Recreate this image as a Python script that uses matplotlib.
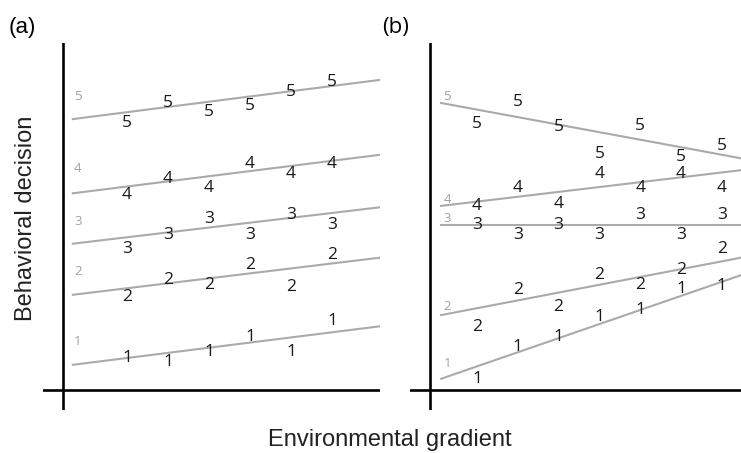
import matplotlib
matplotlib.use("Agg")
import matplotlib.pyplot as plt

# ---------------- data ----------------
# Panel (a): six individuals along gradient, five decision levels
a_cols = [1, 2, 3, 4, 5, 6]
a_level5 = [3.84, 4.13, 4.00, 4.09, 4.29, 4.43]
a_level4 = [2.81, 3.04, 2.91, 3.26, 3.11, 3.26]
a_level3 = [2.04, 2.24, 2.47, 2.24, 2.53, 2.39]
a_level2 = [1.36, 1.60, 1.53, 1.81, 1.50, 1.96]
a_level1 = [0.49, 0.43, 0.57, 0.79, 0.57, 1.01]
a_line_x = [-0.32, 7.17]
a_lines = {5: [3.87, 4.43], 4: [2.81, 3.36], 3: [2.09, 2.61],
           2: [1.36, 1.89], 1: [0.36, 0.91]}
a_tick_x = -0.2
a_ticks = {5: 4.21, 4: 3.19, 3: 2.43, 2: 1.71, 1: 0.71}

# Panel (b): seven individuals along gradient
b_cols = [1, 2, 3, 4, 5, 6, 7]
b_level5 = [3.83, 4.14, 3.79, 3.40, 3.80, 3.36, 3.51]
b_level4 = [2.66, 2.91, 2.69, 3.11, 2.91, 3.11, 2.91]
b_level3 = [2.38, 2.24, 2.39, 2.24, 2.53, 2.24, 2.53]
b_level2 = [0.93, 1.46, 1.21, 1.67, 1.53, 1.74, 2.04]
b_level1 = [0.19, 0.64, 0.79, 1.07, 1.17, 1.47, 1.51]
b_line_x = [0.12, 7.47]
b_lines = {5: [4.10, 3.31], 4: [2.63, 3.14], 3: [2.36, 2.36],
           2: [1.07, 1.89], 1: [0.16, 1.64]}
b_tick_x = 0.27
b_ticks = {5: 4.21, 4: 2.74, 3: 2.47, 2: 1.21, 1: 0.40}

xlabel = "Environmental gradient"
ylabel = "Behavioral decision"

# ---------------- figure ----------------
W, H = 741, 453
fig = plt.figure(figsize=(W / 100, H / 100), dpi=100)

def px_axes(x0, x1, y0, y1):
    return fig.add_axes([x0 / W, 1 - y1 / H, (x1 - x0) / W, (y1 - y0) / H])

line_col = "#aaaaaa"
num_font = "Open Sans"

def draw_panel(ax, cols, levels, line_x, lines, tick_x, ticks, xlim, yaxis_x):
    ax.set_xlim(*xlim)
    ax.set_ylim(-0.286, 4.957)
    ax.axis("off")
    ax.axhline(0, color="black", lw=1.9, zorder=3)
    ax.axvline(yaxis_x, color="black", lw=1.9, zorder=3)
    for lvl, ys in lines.items():
        ax.plot(line_x, ys, color=line_col, lw=1.5, zorder=1)
    for lvl, vals in levels.items():
        for x, y in zip(cols, vals):
            ax.text(x, y, str(lvl), ha="center", va="center_baseline",
                    fontsize=12.5, family=num_font, color="#1a1a1a", zorder=2)
    for lvl, y in ticks.items():
        ax.text(tick_x, y, str(lvl), ha="center", va="center_baseline",
                fontsize=9.5, family=num_font, color="#a0a0a0")

ax_a = px_axes(43, 380, 43, 410)
draw_panel(ax_a, a_cols,
           {5: a_level5, 4: a_level4, 3: a_level3, 2: a_level2, 1: a_level1},
           a_line_x, a_lines, a_tick_x, a_ticks, (-1.049, 7.171), -0.56)

ax_b = px_axes(410, 741, 43, 410)
draw_panel(ax_b, b_cols,
           {5: b_level5, 4: b_level4, 3: b_level3, 2: b_level2, 1: b_level1},
           b_line_x, b_lines, b_tick_x, b_ticks, (-0.642, 7.471), -0.15)

fig.text(22 / W, 1 - 27 / H, "(a)", ha="center", va="center",
         fontsize=16, family="Liberation Sans")
fig.text(396 / W, 1 - 27 / H, "(b)", ha="center", va="center",
         fontsize=16, family="Open Sans")
fig.text(26 / W, 1 - 218 / H, ylabel, ha="center", va="center",
         rotation=90, fontsize=17, family="Liberation Sans", color="#222222")
fig.text(390 / W, 1 - 440 / H, xlabel, ha="center", va="center",
         fontsize=17, family="Liberation Sans", color="#222222")

fig.savefig("out.png", dpi=100)
